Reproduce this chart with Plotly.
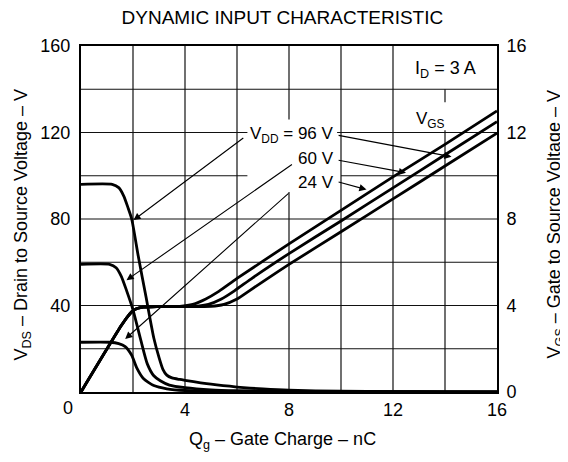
import plotly.graph_objects as go

# ---------------- data ----------------
# Drain-to-source voltage curves (left axis, V) vs gate charge (nC)
q_vds96 = [0, 1.2, 1.45, 1.65, 1.8, 1.95, 2.2, 2.5, 2.8, 3.0, 3.15, 3.3, 3.5, 3.8, 4.0, 5, 6, 7, 8, 10, 12, 14, 16]
vds96 = [96, 96, 94.5, 90.5, 85.5, 80, 63, 44, 25, 16, 10.5, 7.8, 6.5, 5.8, 5.4, 3.6, 2.3, 1.4, 0.8, 0.4, 0.2, 0.1, 0]

q_vds60 = [0, 1.1, 1.35, 1.55, 1.75, 2.0, 2.3, 2.55, 2.8, 3.05, 3.4, 4.0, 5, 6, 8, 16]
vds60 = [59, 59, 57.5, 53.5, 47, 38, 24, 13, 7.5, 5.2, 3.2, 2.0, 1.0, 0.6, 0.3, 0]

q_vds24 = [0, 1.1, 1.45, 1.7, 1.95, 2.15, 2.4, 2.8, 3.3, 4, 6, 16]
vds24 = [23, 23, 22.4, 21, 17, 11, 6.2, 3.0, 1.5, 0.7, 0.3, 0]

# Gate-to-source voltage curves (right axis, V)
q_vgs24 = [0, 1.55, 1.8, 2.05, 2.4, 3.0, 3.8, 4.3, 4.8, 5.3, 6, 8, 10, 12, 14, 16]
vgs24 = [0, 3.07, 3.5, 3.8, 3.92, 3.95, 3.96, 4.05, 4.3, 4.65, 5.25, 6.85, 8.4, 9.95, 11.45, 13.0]

q_vgs60 = [0, 1.55, 1.8, 2.05, 2.4, 3.0, 4.4, 4.9, 5.4, 5.9, 6.6, 8, 10, 12, 14, 16]
vgs60 = [0, 3.07, 3.5, 3.8, 3.92, 3.95, 3.96, 4.05, 4.3, 4.68, 5.28, 6.4, 7.91, 9.44, 10.97, 12.5]

q_vgs96 = [0, 1.55, 1.8, 2.05, 2.4, 3.0, 5.0, 5.5, 6.0, 6.5, 7.2, 8, 10, 12, 14, 16]
vgs96 = [0, 3.07, 3.5, 3.8, 3.92, 3.95, 3.96, 4.05, 4.3, 4.7, 5.27, 5.9, 7.41, 8.93, 10.45, 11.97]

x_ticks = [4, 8, 12, 16]
y_ticks = [40, 80, 120, 160]
y2_ticks = [0, 4, 8, 12, 16]

FONT = "Liberation Sans, Arial, sans-serif"
LW = 2.8

fig = go.Figure()
for qq, vv in [(q_vds96, vds96), (q_vds60, vds60), (q_vds24, vds24)]:
    fig.add_trace(go.Scatter(x=qq, y=vv, mode="lines", yaxis="y",
                             line=dict(color="black", width=LW, shape="spline", smoothing=0.6),
                             showlegend=False, hoverinfo="skip"))
for qq, vv in [(q_vgs24, vgs24), (q_vgs60, vgs60), (q_vgs96, vgs96)]:
    fig.add_trace(go.Scatter(x=qq, y=vv, mode="lines", yaxis="y2",
                             line=dict(color="black", width=LW, shape="spline", smoothing=0.6),
                             showlegend=False, hoverinfo="skip"))

# ---------------- grid (with gaps like the reference) ----------------
GRID = dict(color="#111111", width=1.2)
shapes = []
def vseg(x, y0, y1):
    shapes.append(dict(type="line", xref="x", yref="y", x0=x, x1=x, y0=y0, y1=y1, line=GRID, layer="below"))
def hseg(y, x0, x1):
    shapes.append(dict(type="line", xref="x", yref="y", x0=x0, x1=x1, y0=y, y1=y, line=GRID, layer="below"))

for xv in [2, 4, 6, 10, 12]:
    vseg(xv, 0, 160)
vseg(8, 0, 92.5)
vseg(8, 126, 160)
vseg(14, 0, 121)
vseg(14, 134, 140)
for yv in [20, 40, 60, 80, 140]:
    hseg(yv, 0, 16)
hseg(120, 0, 6.4)
hseg(120, 9.85, 16)
hseg(100, 0, 6.4)
hseg(100, 10.0, 16)

annotations = []
def txt(x, y, s, xanchor="center", size=17):
    annotations.append(dict(x=x, y=y, xref="x", yref="y", text=s, showarrow=False,
                            xanchor=xanchor, yanchor="middle",
                            font=dict(family=FONT, size=size, color="black")))
def arrow(x, y, ax, ay):
    annotations.append(dict(x=x, y=y, ax=ax, ay=ay, xref="x", yref="y", axref="x", ayref="y",
                            text="", showarrow=True, arrowhead=2, arrowsize=1.3,
                            arrowwidth=1.1, arrowcolor="black"))

txt(14.0, 149, "I<sub>D</sub> = 3 A", size=18)
txt(13.45, 126, "V<sub>GS</sub>")
txt(9.8, 119, "V<sub>DD</sub> = 96 V", xanchor="right")
txt(9.8, 108, "60 V", xanchor="right")
txt(9.8, 97, "24 V", xanchor="right")

# right-hand arrows to V_GS curves
arrow(14.25, 108.8, 9.85, 118.8)
arrow(12.5, 101.4, 9.85, 107.3)
arrow(10.98, 93.6, 9.85, 97.3)
# left-hand arrows to V_DS curves
arrow(2.02, 79.5, 6.3, 118)
arrow(1.75, 51.7, 8.17, 105.7)
arrow(1.7, 24.5, 8.04, 92.5)

TF = dict(family=FONT, size=18, color="black")
# shared corner "0" label
annotations.append(dict(x=-0.031, y=-0.047, xref="paper", yref="paper", text="0", showarrow=False,
                        xanchor="center", yanchor="middle", font=TF))
# axis titles
annotations.append(dict(x=-0.141, y=0.485, xref="paper", yref="paper", textangle=-90,
                        text="V<sub>DS</sub> – Drain to Source Voltage – V", showarrow=False,
                        xanchor="center", yanchor="middle", font=dict(family=FONT, size=18, color="black")))
annotations.append(dict(x=1.14, y=0.485, xref="paper", yref="paper", textangle=-90,
                        text="V<sub>GS</sub> – Gate to Source Voltage – V", showarrow=False,
                        xanchor="center", yanchor="middle", font=dict(family=FONT, size=18, color="black")))
annotations.append(dict(x=0.485, y=-0.14, xref="paper", yref="paper",
                        text="Q<sub>g</sub> – Gate Charge – nC", showarrow=False,
                        xanchor="center", yanchor="middle", font=dict(family=FONT, size=18, color="black")))

# page body has an 8px margin, so the figure is 8px smaller and margins shifted
fig.update_layout(
    width=560, height=454,
    margin=dict(l=73, r=71, t=38, b=70),
    paper_bgcolor="white", plot_bgcolor="white",
    title=dict(text="DYNAMIC INPUT CHARACTERISTIC", x=0.49, xanchor="center",
               y=0.98, yanchor="middle", font=dict(family=FONT, size=19, color="black")),
    xaxis=dict(range=[0, 16], tickvals=x_ticks, showgrid=False, zeroline=False,
               showline=True, linecolor="black", linewidth=2, mirror=True,
               ticks="", tickfont=TF),
    yaxis=dict(range=[0, 160], tickvals=y_ticks, showgrid=False, zeroline=False,
               showline=True, linecolor="black", linewidth=2,
               ticks="", tickfont=TF, ticklabelstandoff=5),
    yaxis2=dict(range=[0, 16], tickvals=y2_ticks, overlaying="y", side="right",
                showgrid=False, zeroline=False, showline=True, linecolor="black", linewidth=2,
                ticks="", tickfont=TF, ticklabelstandoff=4),
    shapes=shapes, annotations=annotations, showlegend=False,
)

fig.write_html("out.html")
